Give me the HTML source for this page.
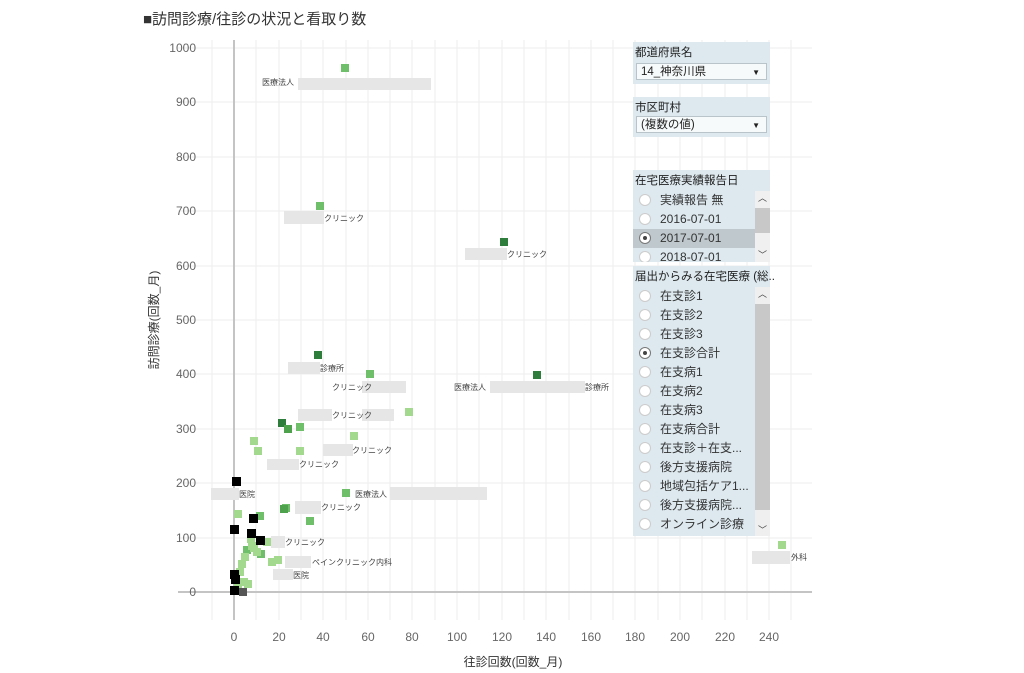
<!DOCTYPE html>
<html><head><meta charset="utf-8"><style>
body{margin:0;width:1024px;height:673px;background:#fff;font-family:"Liberation Sans","Noto Sans CJK JP",sans-serif;position:relative;overflow:hidden}
.t{position:absolute;left:143px;top:8px;font-size:15px;color:#333}
.p{position:absolute;background:#dde9ef;font-size:12px;color:#222}
.h{position:absolute;left:2px;top:2px;white-space:nowrap;font-size:11.5px}
.dd{position:absolute;background:#f7fafb;border:1px solid #b8c4ca;font-size:11.5px;height:17px;line-height:17px;padding-left:4px;box-sizing:border-box}
.dd:after{content:"▼";position:absolute;right:6px;top:0;font-size:8px}
.r{position:absolute;left:0;height:19px;line-height:19px;font-size:12px;width:122px;white-space:nowrap}
.r i{position:absolute;left:6px;top:3px;width:12px;height:12px;border-radius:50%;background:#fff;border:1px solid #ccc;box-sizing:border-box}
.r i.s{border-color:#777}
.r i.s:after{content:"";position:absolute;left:3px;top:3px;width:4px;height:4px;border-radius:50%;background:#444}
.r span{position:absolute;left:27px;color:#333}
.sb{position:absolute;background:#efefef}
.sb b{position:absolute;left:0;width:100%;background:#c8c8c8}
.sb u,.sb s{position:absolute;left:3px;font-size:9px;text-decoration:none;color:#444}
</style></head><body>
<div class="t">■訪問診療/往診の状況と看取り数</div>
<svg width="1024" height="673" style="position:absolute;left:0;top:0" font-family="Liberation Sans,Noto Sans CJK JP,sans-serif">
<g stroke="#eeeeee" stroke-width="1">
<line x1="212" y1="40" x2="212" y2="620"/><line x1="256" y1="40" x2="256" y2="620"/><line x1="279" y1="40" x2="279" y2="620"/><line x1="301" y1="40" x2="301" y2="620"/><line x1="323" y1="40" x2="323" y2="620"/><line x1="346" y1="40" x2="346" y2="620"/><line x1="368" y1="40" x2="368" y2="620"/><line x1="390" y1="40" x2="390" y2="620"/><line x1="412" y1="40" x2="412" y2="620"/><line x1="435" y1="40" x2="435" y2="620"/><line x1="457" y1="40" x2="457" y2="620"/><line x1="479" y1="40" x2="479" y2="620"/><line x1="502" y1="40" x2="502" y2="620"/><line x1="524" y1="40" x2="524" y2="620"/><line x1="546" y1="40" x2="546" y2="620"/><line x1="569" y1="40" x2="569" y2="620"/><line x1="591" y1="40" x2="591" y2="620"/><line x1="613" y1="40" x2="613" y2="620"/><line x1="635" y1="40" x2="635" y2="620"/><line x1="658" y1="40" x2="658" y2="620"/><line x1="680" y1="40" x2="680" y2="620"/><line x1="702" y1="40" x2="702" y2="620"/><line x1="725" y1="40" x2="725" y2="620"/><line x1="747" y1="40" x2="747" y2="620"/><line x1="769" y1="40" x2="769" y2="620"/><line x1="791" y1="40" x2="791" y2="620"/>
<line x1="178" y1="48" x2="812" y2="48"/><line x1="178" y1="102" x2="812" y2="102"/><line x1="178" y1="157" x2="812" y2="157"/><line x1="178" y1="211" x2="812" y2="211"/><line x1="178" y1="266" x2="812" y2="266"/><line x1="178" y1="320" x2="812" y2="320"/><line x1="178" y1="374" x2="812" y2="374"/><line x1="178" y1="429" x2="812" y2="429"/><line x1="178" y1="483" x2="812" y2="483"/><line x1="178" y1="538" x2="812" y2="538"/>
</g>
<line x1="234" y1="40" x2="234" y2="620" stroke="#c4c4c4" stroke-width="2"/>
<line x1="178" y1="592" x2="812" y2="592" stroke="#c4c4c4" stroke-width="2"/>
<g font-size="12" fill="#666" text-anchor="end">
<text x="196" y="52">1000</text><text x="196" y="106">900</text><text x="196" y="161">800</text><text x="196" y="215">700</text><text x="196" y="270">600</text><text x="196" y="324">500</text><text x="196" y="378">400</text><text x="196" y="433">300</text><text x="196" y="487">200</text><text x="196" y="542">100</text><text x="196" y="596">0</text>
</g>
<g font-size="12" fill="#666" text-anchor="middle">
<text x="234" y="641">0</text><text x="279" y="641">20</text><text x="323" y="641">40</text><text x="368" y="641">60</text><text x="412" y="641">80</text><text x="457" y="641">100</text><text x="502" y="641">120</text><text x="546" y="641">140</text><text x="591" y="641">160</text><text x="635" y="641">180</text><text x="680" y="641">200</text><text x="725" y="641">220</text><text x="769" y="641">240</text>
</g>
<text x="513" y="666" font-size="12" fill="#333" text-anchor="middle">往診回数(回数_月)</text>
<text transform="translate(158,320) rotate(-90)" font-size="12" fill="#333" text-anchor="middle">訪問診療(回数_月)</text>
<g fill="#e6e6e6">
<rect x="298" y="78" width="133" height="12"/><rect x="284" y="211" width="40" height="13"/><rect x="465" y="248" width="42" height="12"/><rect x="288" y="362" width="32" height="12"/><rect x="362" y="381" width="44" height="12"/><rect x="490" y="381" width="95" height="12"/><rect x="298" y="409" width="34" height="12"/><rect x="362" y="409" width="32" height="12"/><rect x="323" y="444" width="30" height="12"/><rect x="267" y="459" width="32" height="11"/><rect x="211" y="488" width="28" height="12"/><rect x="390" y="487" width="97" height="13"/><rect x="295" y="501" width="26" height="13"/><rect x="271" y="536" width="14" height="12"/><rect x="285" y="556" width="26" height="12"/><rect x="273" y="569" width="20" height="11"/><rect x="752" y="551" width="38" height="13"/>
</g>
<g font-size="8" fill="#444">
<text x="262" y="85">医療法人</text><text x="324" y="221">クリニック</text><text x="507" y="257">クリニック</text><text x="320" y="371">診療所</text><text x="332" y="390">クリニック</text><text x="454" y="390">医療法人</text><text x="585" y="390">診療所</text><text x="332" y="418">クリニック</text><text x="352" y="453">クリニック</text><text x="299" y="467">クリニック</text><text x="239" y="497">医院</text><text x="355" y="497">医療法人</text><text x="321" y="510">クリニック</text><text x="285" y="545">クリニック</text><text x="312" y="565">ペインクリニック内科</text><text x="293" y="578">医院</text><text x="791" y="560">外科</text>
</g>
<g>
<g fill="#6fbf6a"><rect x="341" y="64" width="8" height="8"/><rect x="316" y="202" width="8" height="8"/><rect x="366" y="370" width="8" height="8"/><rect x="296" y="423" width="8" height="8"/><rect x="342" y="489" width="8" height="8"/><rect x="282" y="504" width="8" height="8"/><rect x="256" y="512" width="8" height="8"/><rect x="306" y="517" width="8" height="8"/><rect x="257" y="550" width="8" height="8"/><rect x="243" y="546" width="8" height="8"/></g>
<g fill="#2f7d3c"><rect x="500" y="238" width="8" height="8"/><rect x="314" y="351" width="8" height="8"/><rect x="533" y="371" width="8" height="8"/><rect x="278" y="419" width="8" height="8"/></g>
<g fill="#4ea14d"><rect x="284" y="425" width="8" height="8"/><rect x="280" y="505" width="8" height="8"/></g>
<g fill="#a3d88f"><rect x="405" y="408" width="8" height="8"/><rect x="350" y="432" width="8" height="8"/><rect x="250" y="437" width="8" height="8"/><rect x="296" y="447" width="8" height="8"/><rect x="254" y="447" width="8" height="8"/><rect x="234" y="510" width="8" height="8"/><rect x="247" y="535" width="8" height="8"/><rect x="263" y="538" width="8" height="8"/><rect x="248" y="542" width="8" height="8"/><rect x="274" y="556" width="8" height="8"/><rect x="268" y="558" width="8" height="8"/><rect x="253" y="548" width="8" height="8"/><rect x="241" y="553" width="8" height="8"/><rect x="238" y="560" width="8" height="8"/><rect x="236" y="568" width="8" height="8"/><rect x="240" y="578" width="8" height="8"/><rect x="244" y="580" width="8" height="8"/><rect x="778" y="541" width="8" height="8"/><rect x="234" y="584" width="8" height="8"/><rect x="250" y="544" width="8" height="8"/></g>
<g fill="#000"><rect x="232" y="477" width="9" height="9"/><rect x="249" y="514" width="9" height="9"/><rect x="230" y="525" width="9" height="9"/><rect x="247" y="529" width="9" height="9"/><rect x="256" y="536" width="9" height="9"/><rect x="230" y="570" width="9" height="9"/><rect x="231" y="575" width="9" height="9"/><rect x="230" y="586" width="9" height="9"/></g>
<rect x="239" y="588" width="8" height="8" fill="#555"/>
</g>
</svg>
<div class="p" style="left:633px;top:42px;width:137px;height:42px"><div class="h">都道府県名</div><div class="dd" style="left:3px;top:21px;width:131px">14_神奈川県</div></div>
<div class="p" style="left:633px;top:97px;width:137px;height:40px"><div class="h">市区町村</div><div class="dd" style="left:3px;top:19px;width:131px">(複数の値)</div></div>
<div class="p" style="left:633px;top:170px;width:137px;height:92px"><div class="h">在宅医療実績報告日</div>
<div class="r" style="top:21px"><i></i><span>実績報告 無</span></div>
<div class="r" style="top:40px"><i></i><span>2016-07-01</span></div>
<div class="r" style="top:59px;background:#bfc8cc"><i class="s"></i><span>2017-07-01</span></div>
<div class="r" style="top:78px;height:14px;overflow:hidden"><i></i><span>2018-07-01</span></div>
<div class="sb" style="left:122px;top:21px;width:15px;height:71px;background:#f0f0f0"><u style="top:0">︿</u><b style="top:17px;height:25px"></b><s style="top:57px">﹀</s></div></div>
<div class="p" style="left:633px;top:266px;width:137px;height:270px"><div class="h">届出からみる在宅医療 (総..</div>
<div class="r" style="top:21px"><i></i><span>在支診1</span></div>
<div class="r" style="top:40px"><i></i><span>在支診2</span></div>
<div class="r" style="top:59px"><i></i><span>在支診3</span></div>
<div class="r" style="top:78px"><i class="s"></i><span>在支診合計</span></div>
<div class="r" style="top:97px"><i></i><span>在支病1</span></div>
<div class="r" style="top:116px"><i></i><span>在支病2</span></div>
<div class="r" style="top:135px"><i></i><span>在支病3</span></div>
<div class="r" style="top:154px"><i></i><span>在支病合計</span></div>
<div class="r" style="top:173px"><i></i><span>在支診＋在支...</span></div>
<div class="r" style="top:192px"><i></i><span>後方支援病院</span></div>
<div class="r" style="top:211px"><i></i><span>地域包括ケア1...</span></div>
<div class="r" style="top:230px"><i></i><span>後方支援病院...</span></div>
<div class="r" style="top:249px"><i></i><span>オンライン診療</span></div>
<div class="sb" style="left:122px;top:21px;width:15px;height:249px"><u style="top:0">︿</u><b style="top:17px;height:206px"></b><s style="top:236px">﹀</s></div></div>
</body></html>
